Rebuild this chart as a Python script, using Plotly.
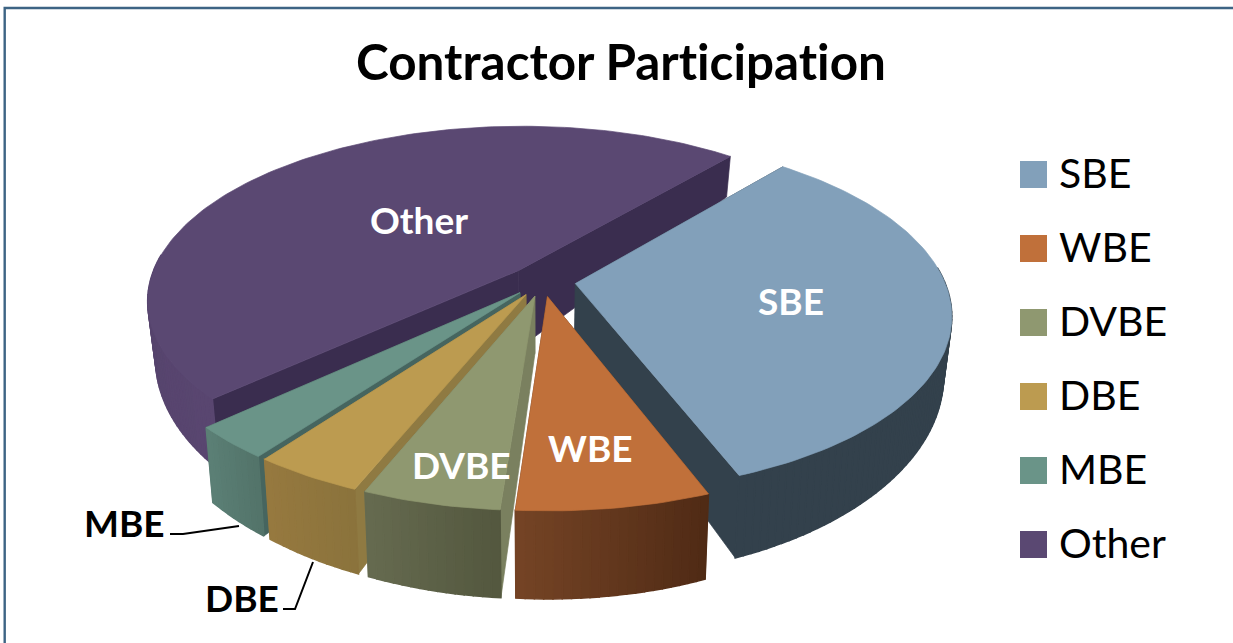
import math
import plotly.graph_objects as go

# ---- data ----
categories = ["SBE", "WBE", "DVBE", "DBE", "MBE", "Other"]
values = [33, 7, 5, 4, 3, 48]

# ---- style ----
top_colors = ["#82A0BA", "#C0703A", "#8F9870", "#BC9B50", "#6A9488", "#5A4872"]
radial_colors = ["#33414C", "#5E3820", "#7A805F", "#8F7A42", "#46655F", "#3A2D4F"]
wall_from = ["#33414C", "#754425", "#666B50", "#96793F", "#5C8076", "#4A3B61"]
wall_to = ["#33414C", "#4F2A15", "#53573E", "#8B733C", "#527369", "#594670"]
apex_drop = [0, 0, 0, 0, 0, 24]
draw_order = [5, 0, 4, 3, 2, 1]

START_ANGLE = 40.2
PULL = 0.09
CX, CY, RX, RY, PERSP = 542.5, 281.0, 369.0, 172.0, 0.17
H0, HK, LEAN = 55.0, 2.3, 0.98
FONT = "Lato"


def project(u, v):
    s = 1.0 / (1.0 - PERSP * v)
    return CX + RX * u * s, CY + RY * v * s, s


def lower(u, v):
    x, y, s = project(u, v)
    return CX + (x - CX) * LEAN, y + H0 * s ** HK


def mix(c1, c2, t):
    a = [int(c1[i:i + 2], 16) for i in (1, 3, 5)]
    b = [int(c2[i:i + 2], 16) for i in (1, 3, 5)]
    return "#%02x%02x%02x" % tuple(round(p + (q - p) * t) for p, q in zip(a, b))


fig = go.Figure()


def poly(pts, color, lw=0.7):
    xs = [p[0] for p in pts] + [pts[0][0]]
    ys = [p[1] for p in pts] + [pts[0][1]]
    fig.add_trace(go.Scatter(
        x=xs, y=ys, mode="lines", fill="toself", fillcolor=color,
        line=dict(color=color, width=lw), hoverinfo="skip", showlegend=False))


total = sum(values)
spans = [360.0 * val / total for val in values]
starts = []
acc = START_ANGLE
for sp in spans:
    starts.append(acc)
    acc += sp

for i in draw_order:
    a0, a1 = starts[i], starts[i] + spans[i]
    mid = math.radians((a0 + a1) / 2)
    ox, oy = PULL * math.sin(mid), -PULL * math.cos(mid)
    n = max(8, int(spans[i] / 1.2))
    rim = []
    for k in range(n + 1):
        t = math.radians(a0 + (a1 - a0) * k / n)
        rim.append((ox + math.sin(t), oy - math.cos(t)))

    # radial walls
    lx, ly = lower(ox, oy)
    for end in (rim[0], rim[-1]):
        poly([project(ox, oy)[:2], project(*end)[:2], lower(*end), (lx, ly + apex_drop[i])], radial_colors[i])
    # outer wall, only where it faces the viewer
    for k in range(n):
        t = math.radians(a0 + (a1 - a0) * (k + 0.5) / n)
        if -math.cos(t) < -0.1:
            continue
        p, q = rim[k], rim[k + 1]
        col = mix(wall_to[i], wall_from[i], (k + 0.5) / n)
        poly([project(*p)[:2], project(*q)[:2], lower(*q), lower(*p)], col, lw=1.5)
    # top face
    poly([project(ox, oy)[:2]] + [project(*p)[:2] for p in rim], top_colors[i])

# legend column on its own axes
fig.add_trace(go.Scatter(
    x=[0] * len(categories), y=categories, mode="markers", xaxis="x2", yaxis="y2",
    marker=dict(symbol="square", size=27, color=top_colors, line=dict(width=0)),
    hoverinfo="skip", showlegend=False))

annotations = []
for cat in categories:
    annotations.append(dict(xref="x2", yref="y2", x=0, y=cat, text=cat, showarrow=False,
                            xanchor="left", xshift=23, yshift=2,
                            font=dict(family=FONT, size=41, color="#000000")))

labels = [("Other", 419, 219, "#ffffff"), ("SBE", 791, 300, "#ffffff"), ("WBE", 590, 447, "#ffffff"),
          ("DVBE", 461, 464, "#ffffff"), ("MBE", 124, 522, "#000000"), ("DBE", 242, 597, "#000000")]
for text, lx, ly, col in labels:
    annotations.append(dict(xref="x", yref="y", x=lx, y=ly, text="<b>%s</b>" % text, showarrow=False,
                            font=dict(family=FONT, size=37, color=col)))

shapes = [
    dict(type="rect", xref="x", yref="y", x0=4.7, y0=8, x1=1300, y1=700, layer="below",
         line=dict(color="#3D6484", width=2.4)),
    dict(type="path", xref="x", yref="y", path="M170,534 L183,534 L239,526",
         line=dict(color="#000000", width=2)),
    dict(type="path", xref="x", yref="y", path="M283,609 L295,609 L313,562",
         line=dict(color="#000000", width=2)),
]

fig.update_layout(
    width=1233, height=643, autosize=False,
    margin=dict(l=0, r=0, t=0, b=0),
    paper_bgcolor="#ffffff", plot_bgcolor="#ffffff",
    showlegend=False,
    title=dict(text="<b><span style='font-variant-ligatures:none'>Contractor Participation</span></b>",
               x=621 / 1233, y=1 - 63 / 643,
               xanchor="center", yanchor="middle", xref="paper", yref="paper",
               font=dict(family=FONT, size=49.4, color="#000000")),
    xaxis=dict(range=[0, 1233], visible=False, domain=[0, 1]),
    yaxis=dict(range=[643, 0], visible=False, domain=[0, 1]),
    xaxis2=dict(range=[-1, 1], visible=False, domain=[1000 / 1233, 1067 / 1233], anchor="y2"),
    yaxis2=dict(type="category", categoryorder="array", categoryarray=categories,
                range=[5.5, -0.5], visible=False,
                domain=[1 - 581.5 / 643, 1 - 137.5 / 643], anchor="x2"),
    annotations=annotations, shapes=shapes,
)

fig.write_html("out.html", config=dict(displayModeBar=False),
               post_script="document.documentElement.style.margin='0';document.body.style.margin='0';document.body.style.overflow='hidden';")
